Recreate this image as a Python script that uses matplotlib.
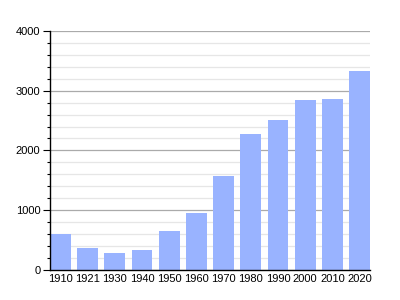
import numpy as np
import matplotlib.pyplot as plt
from matplotlib.ticker import MultipleLocator

plt.rcParams['font.family'] = ['Liberation Sans', 'DejaVu Sans']

# Population par année de recensement
annees = ['1910', '1921', '1930', '1940', '1950', '1960', '1970', '1980', '1990', '2000', '2010', '2020']
population = [600, 370, 285, 335, 650, 950, 1570, 2270, 2505, 2840, 2855, 3325]

fig = plt.figure(figsize=(4, 3), dpi=100)
ax = fig.add_axes([0.125, 0.1, 0.8, 0.797])

x = np.arange(len(annees))
ax.bar(x, population, width=0.76, color='#99b3ff', zorder=2)

ax.set_xlim(-0.38, len(annees) - 1 + 0.38)
ax.set_ylim(0, 4000)
ax.set_xticks(x)
ax.set_xticklabels(annees)
ax.yaxis.set_major_locator(MultipleLocator(1000))
ax.yaxis.set_minor_locator(MultipleLocator(200))

# Grille : lignes principales grises, secondaires très claires
ax.grid(axis='y', which='major', color='#aaaaaa', linewidth=0.9, zorder=0)
ax.grid(axis='y', which='minor', color='#e6e6e6', linewidth=0.9, zorder=0)

for s in ['top', 'right']:
    ax.spines[s].set_visible(False)
ax.spines['left'].set_linewidth(1.0)
ax.spines['bottom'].set_linewidth(1.0)

ax.tick_params(axis='y', which='major', length=5, width=0.8, labelsize=8, pad=2)
ax.tick_params(axis='y', which='minor', length=2.5, width=0.8)
ax.tick_params(axis='x', length=0, labelsize=8, pad=3)

fig.savefig('out.png', dpi=100)
